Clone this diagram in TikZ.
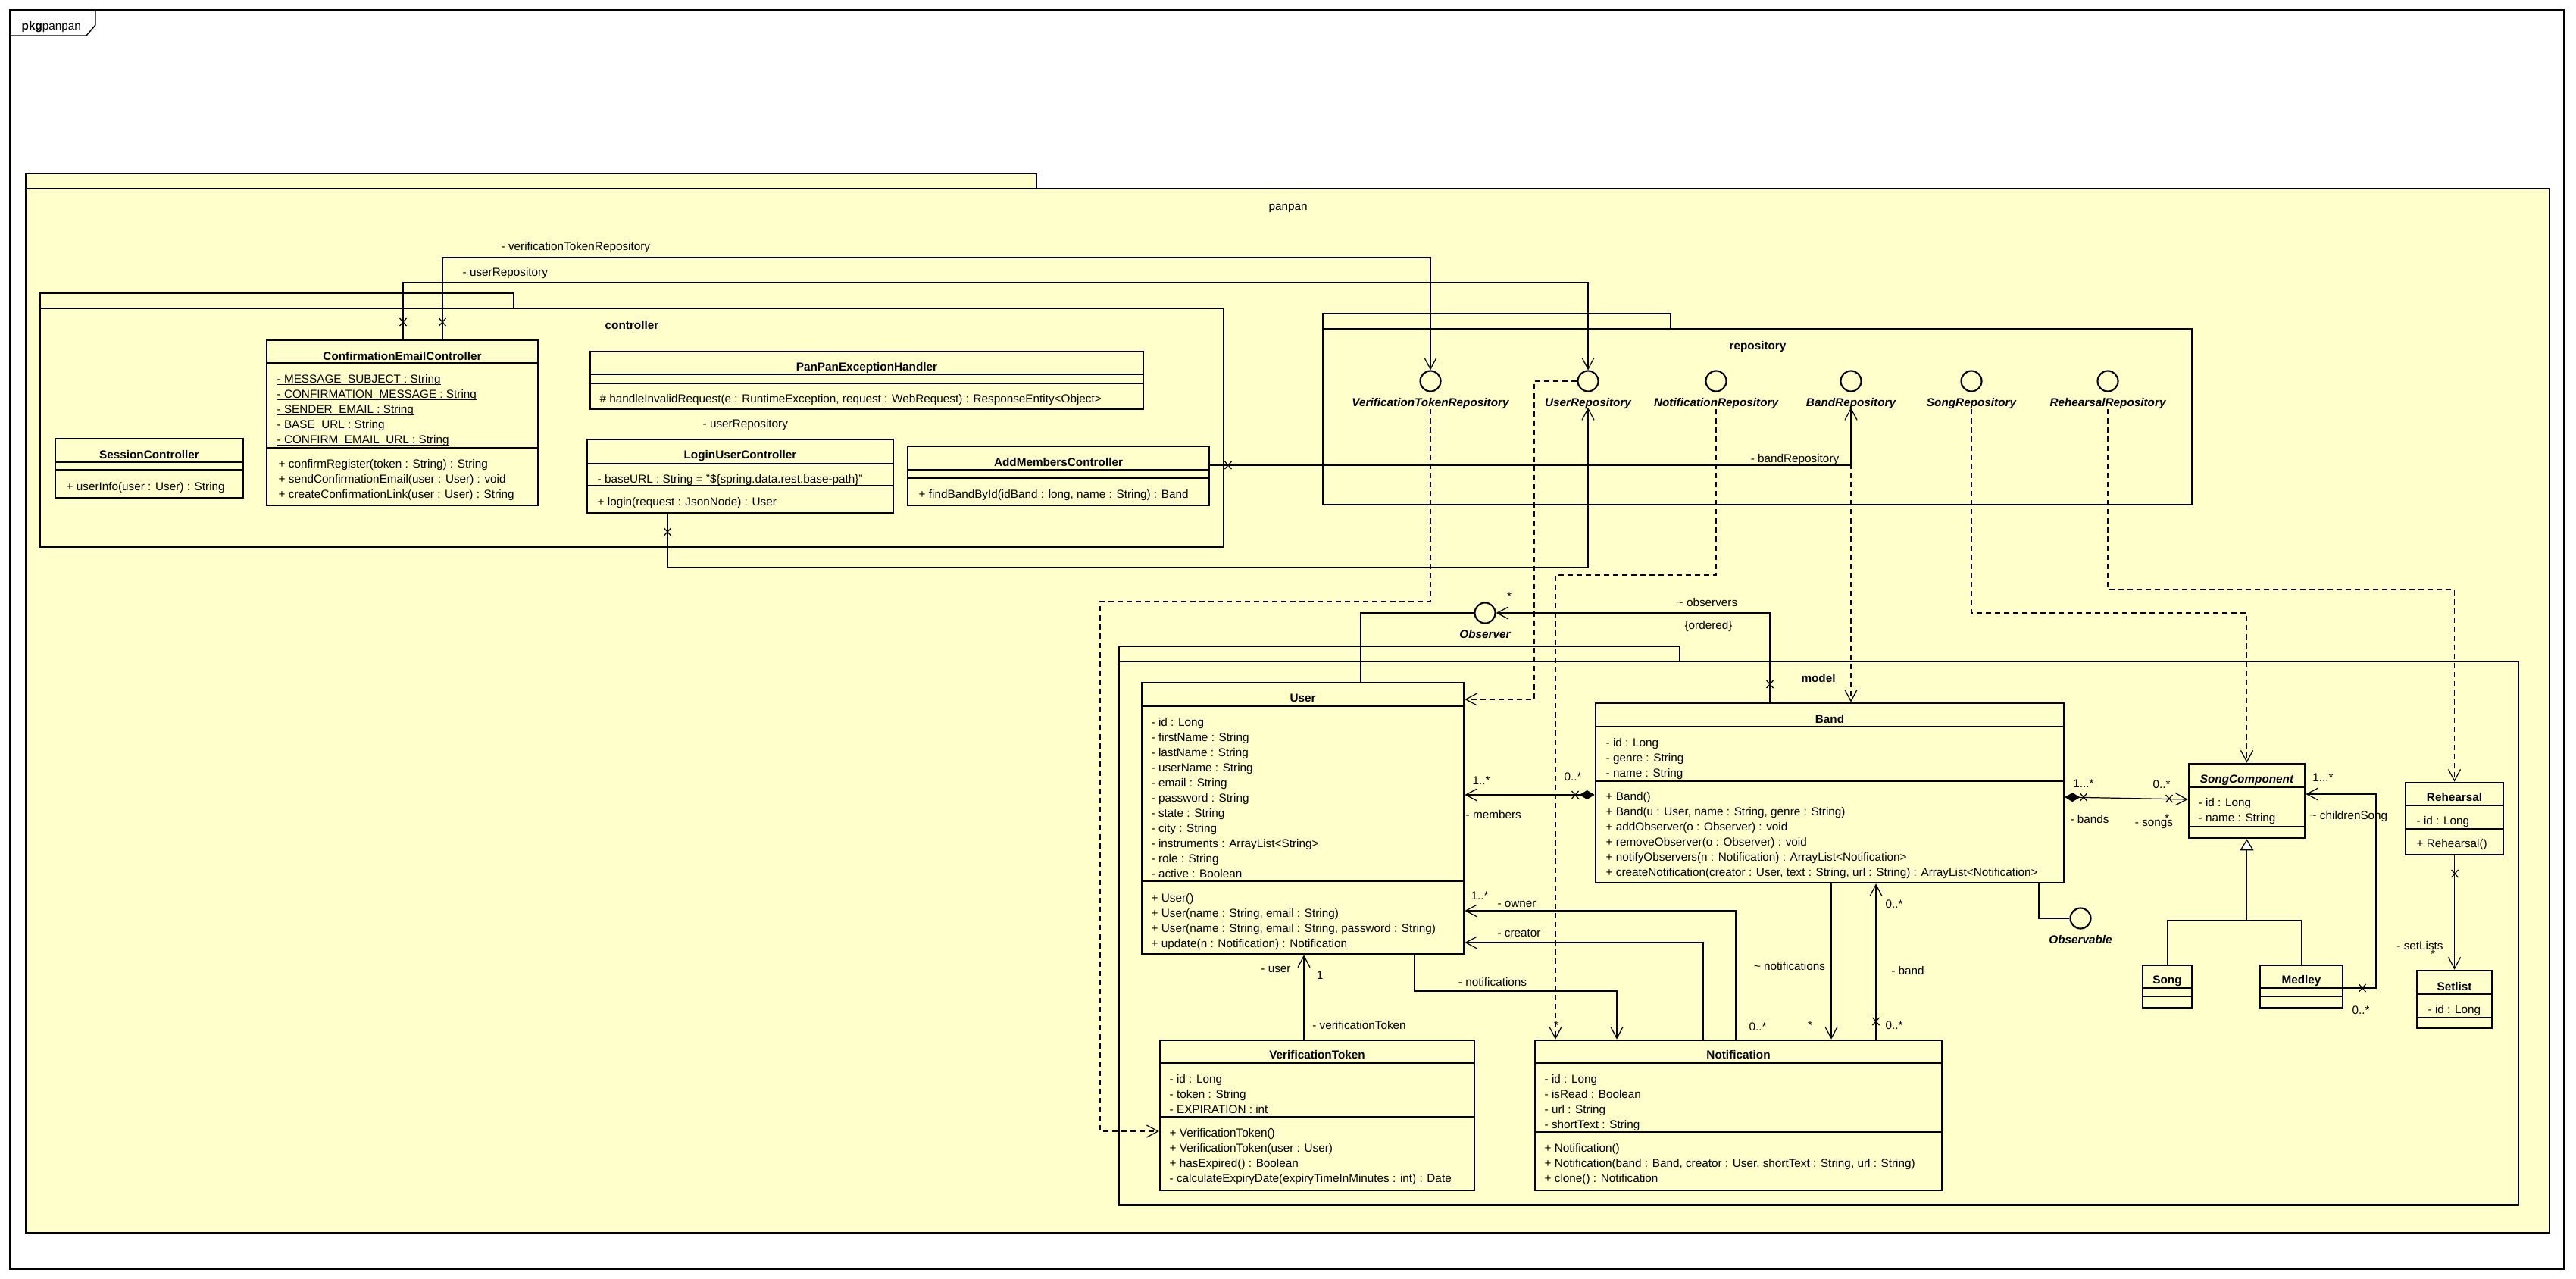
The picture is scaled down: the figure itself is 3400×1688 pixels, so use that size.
\documentclass[tikz,border=0pt]{standalone}
\usepackage{fontspec}
\setmainfont{Liberation Sans}
\usetikzlibrary{arrows.meta,fit,calc}
\definecolor{pkgfill}{HTML}{FFFFCC}
\tikzset{
  every node/.style={font=\fontsize{4.35pt}{5.3pt}\selectfont},
  txt/.style={anchor=west, inner sep=0pt, text height=0.7em, text depth=0.2em},
  ctxt/.style={anchor=center, inner sep=0pt, text height=0.7em, text depth=0.2em},
  ttl/.style={ctxt, font=\fontsize{4.35pt}{5.3pt}\selectfont\bfseries},
  lbl/.style={ctxt, font=\fontsize{4.35pt}{5.3pt}\selectfont\bfseries\itshape},
  pkg/.style={draw, line width=0.8pt, fill=pkgfill},
  cls/.style={draw, line width=0.75pt, fill=pkgfill, inner sep=0pt},
  sep/.style={line width=0.3pt},
  conn/.style={line width=0.35pt},
  dep/.style={conn, dash pattern=on 0.07cm off 0.05cm},
  oarr/.style={-{Straight Barb[length=0.15cm,width=0.16cm]}},
  comp/.style={{Diamond[length=0.2cm,width=0.12cm]}-{Straight Barb[length=0.15cm,width=0.16cm]}},
  gen/.style={-{Triangle[length=0.15cm,width=0.18cm,fill=white]}},
  lolli/.style={circle, draw, line width=0.6pt, minimum size=0.27cm, inner sep=0pt, fill=pkgfill},
}
\newcommand{\ulx}[1]{\setbox0=\hbox{#1}\rlap{\rule[-0.75pt]{\wd0}{0.28pt}}\box0}
\newcommand{\xm}[2]{\draw[conn] (#1-4.5,#2-5) -- (#1+4.5,#2+5) (#1-4.5,#2+5) -- (#1+4.5,#2-5);}
\newcommand{\umlbox}[9]{%
  \node[cls, fit={(#2,#3) (#4,#5)}] (#1) {};
  \draw[sep] (#2,#6) -- (#4,#6);
  \draw[sep] (#2,#7) -- (#4,#7);
  \node[ttl] (#1t) at (#1.north |- 0,#8) {#9};
}
\newcommand{\rows}[4]{\foreach \t [count=\k from 0] in {#4} {\node[txt] (#1\k) at (#2,{#3+20*\k}) {\t};}}
\begin{document}
\begin{tikzpicture}[x=0.01cm,y=-0.01cm]
\fill[white] (0,0) rectangle (3400,1688);
\useasboundingbox (0,0) rectangle (3400,1688);
% frame
\draw[line width=0.4pt] (13,13) rectangle (3384,1675);
\draw[line width=0.4pt] (13,47) -- (114,47) -- (126,33) -- (126,13);
\node[txt] (pkgl) at (28,31) {\textbf{pkg}panpan};
% packages
\draw[pkg] (34,229) rectangle (1368,249);
\draw[pkg] (34,249) rectangle (3365,1627);
\node[ctxt] (panpanl) at (1700,269) {panpan};
\draw[pkg] (53,387) rectangle (678,407);
\draw[pkg] (53,407) rectangle (1615,722);
\node[ttl] (ctrll) at (834,426) {controller};
\draw[pkg] (1746,414) rectangle (2205,434);
\draw[pkg] (1746,434) rectangle (2893,666);
\node[ttl] (repol) at (2320,453) {repository};
\draw[pkg] (1477,853) rectangle (2217,873);
\draw[pkg] (1477,873) rectangle (3324,1590);
\node[ttl] (modell) at (2400,892) {model};

% classes
\umlbox{SesC}{73}{579}{321}{657}{610}{620}{597}{SessionController}
\rows{sesm}{87}{639}{{+ userInfo(user : User) : String}}

\umlbox{CEC}{352}{449}{710}{667}{479}{591}{467}{ConfirmationEmailController}
\rows{ceca}{365}{497}{\ulx{- MESSAGE\_SUBJECT : String},\ulx{- CONFIRMATION\_MESSAGE : String},\ulx{- SENDER\_EMAIL : String},\ulx{- BASE\_URL : String},\ulx{- CONFIRM\_EMAIL\_URL : String}}
\rows{cecm}{367}{609}{+ confirmRegister(token : String) : String,+ sendConfirmationEmail(user : User) : void,+ createConfirmationLink(user : User) : String}

\umlbox{PPEH}{779}{464}{1509}{540}{494}{506}{481}{PanPanExceptionHandler}
\rows{ppm}{791}{523}{{\# handleInvalidRequest(e : RuntimeException, request : WebRequest) : ResponseEntity<Object>}}

\umlbox{LUC}{775}{580}{1179}{677}{612}{641}{597}{LoginUserController}
\rows{luca}{788}{629}{{- baseURL : String = "\$\{spring.data.rest.base-path\}"}}
\rows{lucm}{788}{659}{{+ login(request : JsonNode) : User}}

\umlbox{AMC}{1198}{589}{1596}{667}{620}{631}{607}{AddMembersController}
\rows{amcm}{1212}{649}{{+ findBandById(idBand : long, name : String) : Band}}

\umlbox{User}{1507}{901}{1932}{1259}{932}{1163}{918}{User}
\rows{ua}{1519}{950}{- id : Long,- firstName : String,- lastName : String,- userName : String,- email : String,- password : String,- state : String,- city : String,- instruments : ArrayList<String>,- role : String,- active : Boolean}
\rows{um}{1519}{1182}{+ User(),{+ User(name : String, email : String)},{+ User(name : String, email : String, password : String)},+ update(n : Notification) : Notification}

\umlbox{Band}{2106}{928}{2724}{1165}{959}{1031}{946}{Band}
\rows{ba}{2119}{977}{- id : Long,- genre : String,- name : String}
\rows{bm}{2119}{1048}{+ Band(),{+ Band(u : User, name : String, genre : String)},+ addObserver(o : Observer) : void,+ removeObserver(o : Observer) : void,+ notifyObservers(n : Notification) : ArrayList<Notification>,{+ createNotification(creator : User, text : String, url : String) : ArrayList<Notification>}}

\umlbox{VT}{1531}{1373}{1946}{1571}{1403}{1474}{1389}{VerificationToken}
\rows{vta}{1543}{1421}{- id : Long,- token : String,\ulx{- EXPIRATION : int}}
\rows{vtm}{1543}{1492}{+ VerificationToken(),+ VerificationToken(user : User),+ hasExpired() : Boolean,\ulx{- calculateExpiryDate(expiryTimeInMinutes : int) : Date}}

\umlbox{Notif}{2026}{1373}{2563}{1571}{1403}{1494}{1389}{Notification}
\rows{na}{2038}{1421}{- id : Long,- isRead : Boolean,- url : String,- shortText : String}
\rows{nm}{2038}{1512}{+ Notification(),{+ Notification(band : Band, creator : User, shortText : String, url : String)},+ clone() : Notification}

\umlbox{SComp}{2889}{1008}{3042}{1106}{1039}{1091}{1025}{\itshape SongComponent}
\rows{sca}{2901}{1056}{- id : Long,- name : String}

\umlbox{Reh}{3175}{1033}{3304}{1128}{1063}{1094}{1049}{Rehearsal}
\rows{rha}{3189}{1080}{- id : Long}
\rows{rhm}{3189}{1110}{+ Rehearsal()}

\umlbox{Setl}{3190}{1281}{3289}{1357}{1312}{1343}{1299}{Setlist}
\rows{sla}{3204}{1329}{- id : Long}

\umlbox{Song}{2828}{1274}{2893}{1330}{1304}{1315}{1290}{Song}
\umlbox{Medley}{2983}{1274}{3092}{1330}{1304}{1315}{1290}{Medley}

% lollipops
\node[lolli] (VTRc) at (1888,503) {};
\node[lbl] (VTRl) at (1888,528) {VerificationTokenRepository};
\node[lolli] (URc) at (2096,503) {};
\node[lbl] (URl) at (2096,528) {UserRepository};
\node[lolli] (NRc) at (2265,503) {};
\node[lbl] (NRl) at (2265,528) {NotificationRepository};
\node[lolli] (BRc) at (2443,503) {};
\node[lbl] (BRl) at (2443,528) {BandRepository};
\node[lolli] (SRc) at (2602,503) {};
\node[lbl] (SRl) at (2602,528) {SongRepository};
\node[lolli] (RRc) at (2782,503) {};
\node[lbl] (RRl) at (2782,528) {RehearsalRepository};
\node[lolli] (Obs) at (1960,809) {};
\node[lbl] (Obsl) at (1960,834) {Observer};
\node[lolli] (Obl) at (2746,1212) {};
\node[lbl] (Obll) at (2746,1237) {Observable};

% controller associations
\draw[conn,oarr] (CEC.north -| 532,0) -- (532,373) -| (URc.north);
\draw[conn,oarr] (CEC.north -| 584,0) -- (584,340) -| (VTRc.north);
\xm{532}{425}
\xm{584}{425}
\draw[conn,oarr] (LUC.south -| 881,0) -- (881,749) -| (URc.south |- 0,538);
\xm{881}{702}
\draw[conn,oarr] (AMC.east |- 0,614) -| (BRc.south |- 0,538);
\xm{1621}{614}

% repository dependencies
\draw[dep,oarr] (VTRc.south |- 0,540) -- (1888,794) -| (1452,1493) -- (VT.west |- 0,1493);
\draw[dep,oarr] (URc.west) -- (2025,503) |- (User.east |- 0,923);
\draw[dep,oarr] (NRc.south |- 0,540) -- (2265,759) -| (Notif.north -| 2053,0);
\draw[dep,oarr] (BRc.south |- 0,540) -- (Band.north -| 2443,0);
\draw[dep,oarr] (SRc.south |- 0,540) -- (2602,809) -| (SComp.north);
\draw[dep,oarr] (RRc.south |- 0,540) -- (2782,778) -| (Reh.north);

% model associations
\draw[conn] (User.north -| 1796,0) |- (Obs.west);
\draw[conn,oarr] (Band.north -| 2336,0) |- (Obs.east);
\xm{2336}{903}
\draw[conn] (Band.south -| 2691,0) |- (Obl.west);
\draw[conn,comp] (Band.west |- 0,1049) -- (User.east |- 0,1049);
\xm{2079}{1049}
\draw[conn,oarr] (Notif.north -| 2291,0) |- (User.east |- 0,1202);
\draw[conn,oarr] (Notif.north -| 2248,0) |- (User.east |- 0,1244);
\draw[conn,oarr] (User.south -| 1867,0) -- (1867,1308) -| (Notif.north -| 2134,0);
\draw[conn,oarr] (Band.south -| 2417,0) -- (Notif.north -| 2417,0);
\draw[conn,oarr] (Notif.north -| 2476,0) -- (Band.south -| 2476,0);
\xm{2476}{1348}
\draw[conn,oarr] (VT.north -| 1721,0) -- (User.south -| 1721,0);
\draw[conn,comp] (Band.east |- 0,1052) -- (SComp.west |- 0,1055);
\xm{2750}{1052}
\xm{2863}{1054}
\draw[conn,oarr] (Medley.east |- 0,1304) -- (3136,1304) |- (SComp.east |- 0,1048);
\xm{3118}{1304}
\coordinate (genj) at (SComp.south |- 0,1215);
\draw[conn] (Song.north) |- (genj) -| (Medley.north);
\draw[conn,gen] (genj) -- (SComp.south);
\draw[conn,oarr] (Reh.south) -- (Setl.north);
\xm{3240}{1153}

% labels
\node[txt] (l1) at (661,322) {- verificationTokenRepository};
\node[txt] (l2) at (610,356) {- userRepository};
\node[txt] (l3) at (927,556) {- userRepository};
\node[ctxt] (l4) at (2369,602) {- bandRepository};
\node[ctxt] (l5) at (2253,792) {\textasciitilde{} observers};
\node[ctxt] (l6) at (2255,822) {\{ordered\}};
\node[ctxt] (l7) at (1992,784) {*};
\node[ctxt] (l8) at (1955,1027) {1..*};
\node[ctxt] (l9) at (2076,1022) {0..*};
\node[txt] (l10) at (1934,1072) {- members};
\node[ctxt] (l11) at (1953,1179) {1..*};
\node[ctxt] (l12) at (2002,1189) {- owner};
\node[ctxt] (l13) at (2005,1228) {- creator};
\node[ctxt] (l14) at (1970,1293) {- notifications};
\node[ctxt] (l15) at (2362,1272) {\textasciitilde{} notifications};
\node[ctxt] (l16) at (2518,1278) {- band};
\node[ctxt] (l17) at (2500,1190) {0..*};
\node[ctxt] (l18) at (2320,1352) {0..*};
\node[ctxt] (l19) at (2389,1350) {*};
\node[ctxt] (l20) at (2500,1350) {0..*};
\node[ctxt] (l21) at (2054,1350) {*};
\node[ctxt] (l22) at (1684,1275) {- user};
\node[ctxt] (l23) at (1742,1284) {1};
\node[ctxt] (l24) at (1794,1350) {- verificationToken};
\node[ctxt] (l25) at (2750,1031) {1...*};
\node[ctxt] (l26) at (2758,1078) {- bands};
\node[ctxt] (l27) at (2853,1032) {0..*};
\node[ctxt] (l28) at (2843,1082) {- songs};
\node[ctxt] (l29) at (2860,1077) {*};
\node[ctxt] (l30) at (3066,1023) {1...*};
\node[ctxt] (l31) at (3100,1073) {\textasciitilde{} childrenSong};
\node[ctxt] (l32) at (3116,1330) {0..*};
\node[ctxt] (l33) at (3194,1245) {- setLists};
\node[ctxt] (l34) at (3211,1256) {*};
\end{tikzpicture}
\end{document}
